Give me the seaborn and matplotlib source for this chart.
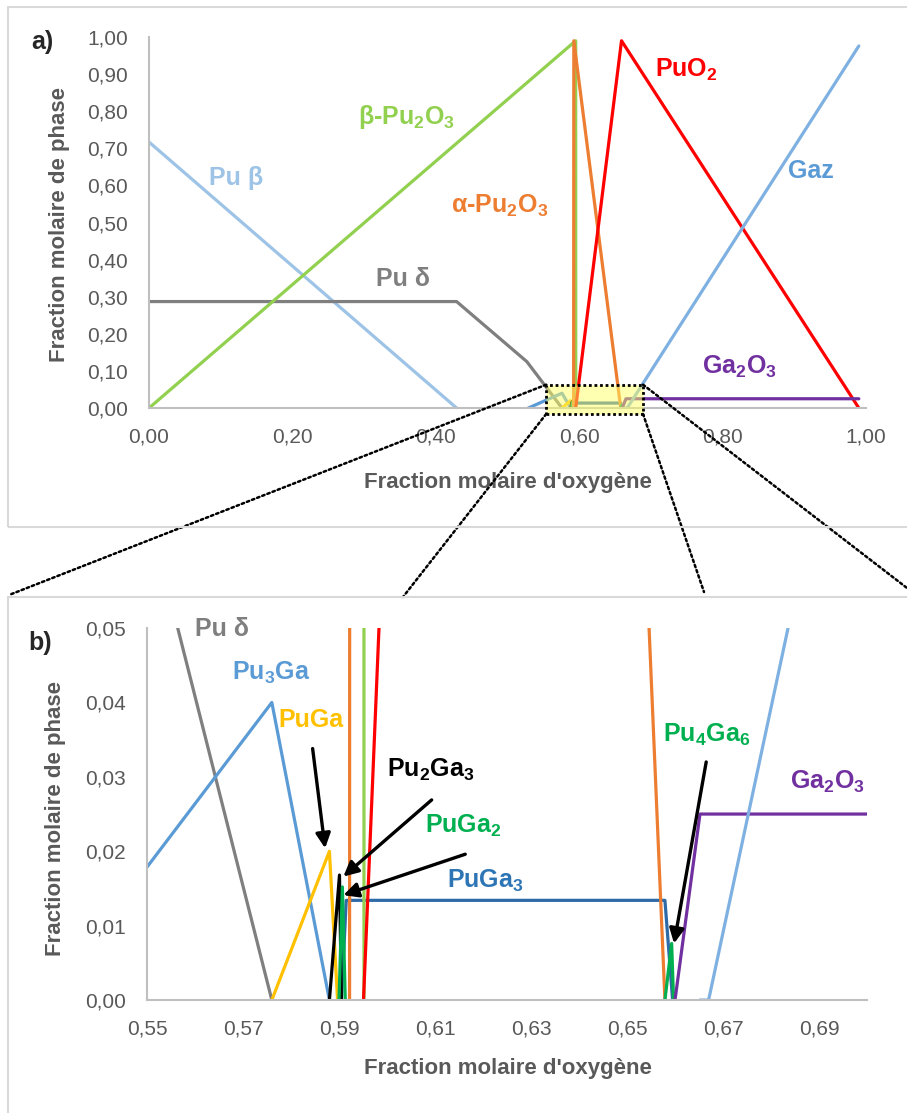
import numpy as np
import pandas as pd
import seaborn as sns
import matplotlib.pyplot as plt
from matplotlib.patches import Rectangle, ConnectionPatch

sns.set_style("white")
plt.rcParams['font.family'] = ['Liberation Sans', 'DejaVu Sans']
plt.rcParams['mathtext.fontset'] = 'custom'

# phase fraction curves (x = oxygen molar fraction, y = phase molar fraction)
pu_beta_x = [0.0, 0.429]
pu_beta_y = [0.717, 0.0]
pu_delta_x = [0.0, 0.429, 0.527, 0.576]
pu_delta_y = [0.287, 0.287, 0.125, 0.0]
pu3ga_x = [0.529, 0.576, 0.588]
pu3ga_y = [0.0, 0.040, 0.0]
puga_x = [0.576, 0.588, 0.5897]
puga_y = [0.0, 0.020, 0.0]
puga3_x = [0.5905, 0.5915, 0.6579, 0.6595]
puga3_y = [0.0, 0.0134, 0.0134, 0.0]
pu2ga3_x = [0.588, 0.5901, 0.5905]
pu2ga3_y = [0.0, 0.0168, 0.0]
puga2_x = [0.5900, 0.5907, 0.5913]
puga2_y = [0.0, 0.0152, 0.0]
beta_pu2o3_x = [0.0, 0.5951, 0.5952]
beta_pu2o3_y = [0.0, 0.99, 0.0]
alpha_pu2o3_x = [0.5922, 0.5925, 0.6579]
alpha_pu2o3_y = [0.0, 0.99, 0.0]
puo2_x = [0.5951, 0.659, 0.99]
puo2_y = [0.0, 0.99, 0.0]
pu4ga6_x = [0.6579, 0.6593, 0.6597]
pu4ga6_y = [0.0, 0.0076, 0.0]
ga2o3_x = [0.660, 0.6652, 0.99]
ga2o3_y = [0.0, 0.025, 0.025]
gaz_x = [0.6652, 0.667, 0.99]
gaz_y = [0.0, 0.0, 0.976]

series = {
    'Pu β': (pu_beta_x, pu_beta_y, '#9DC3E6'),
    'Pu δ': (pu_delta_x, pu_delta_y, '#7F7F7F'),
    'Pu3Ga': (pu3ga_x, pu3ga_y, '#5B9BD5'),
    'PuGa': (puga_x, puga_y, '#FFC000'),
    'PuGa3': (puga3_x, puga3_y, '#2E6AA6'),
    'Pu2Ga3': (pu2ga3_x, pu2ga3_y, '#000000'),
    'PuGa2': (puga2_x, puga2_y, '#00B050'),
    'β-Pu2O3': (beta_pu2o3_x, beta_pu2o3_y, '#92D050'),
    'α-Pu2O3': (alpha_pu2o3_x, alpha_pu2o3_y, '#ED7D31'),
    'PuO2': (puo2_x, puo2_y, '#FF0000'),
    'Pu4Ga6': (pu4ga6_x, pu4ga6_y, '#00B050'),
    'Ga2O3': (ga2o3_x, ga2o3_y, '#7030A0'),
    'Gaz': (gaz_x, gaz_y, '#7EB1E1'),
}

frames = []
for name, (xs, ys, col) in series.items():
    frames.append(pd.DataFrame({'phase': name, 'x': xs, 'y': ys}))
df = pd.concat(frames, ignore_index=True)
palette = {name: v[2] for name, v in series.items()}
order = list(series.keys())

# ticks
top_xticks = [0.0, 0.2, 0.4, 0.6, 0.8, 1.0]
top_yticks = [0.0, 0.1, 0.2, 0.3, 0.4, 0.5, 0.6, 0.7, 0.8, 0.9, 1.0]
bot_xticks = [0.55, 0.57, 0.59, 0.61, 0.63, 0.65, 0.67, 0.69]
bot_yticks = [0.0, 0.01, 0.02, 0.03, 0.04, 0.05]

grey_txt = '#595959'
grey_ax = '#BFBFBF'

fig = plt.figure(figsize=(9.07, 11.13), dpi=100)
ax1 = fig.add_axes([0.1643, 0.6334, 0.7905, 0.3333])
ax2 = fig.add_axes([0.1621, 0.1015, 0.7938, 0.3342])

for ax in (ax1, ax2):
    sns.lineplot(data=df, x='x', y='y', hue='phase', hue_order=order,
                 palette=palette, estimator=None, sort=False,
                 legend=False, lw=2.3, ax=ax)
    for s in ['top', 'right']:
        ax.spines[s].set_visible(False)
    for s in ['left', 'bottom']:
        ax.spines[s].set_color(grey_ax)
        ax.spines[s].set_linewidth(1.5)
    ax.tick_params(direction='in', length=6, width=1.2, color=grey_ax,
                   labelsize=15, labelcolor=grey_txt)
    ax.tick_params(axis='x', pad=14)
    ax.tick_params(axis='y', pad=15)

def fmt(v, nd):
    return f"{v:.{nd}f}".replace('.', ',')

ax1.set_xlim(0, 1.0)
ax1.set_ylim(0, 1.0)
ax1.set_xticks(top_xticks)
ax1.set_xticklabels([fmt(v, 2) for v in top_xticks])
ax1.set_yticks(top_yticks)
ax1.set_yticklabels([fmt(v, 2) for v in top_yticks])

ax2.set_xlim(0.55, 0.70)
ax2.set_ylim(0, 0.05)
ax2.set_xticks(bot_xticks)
ax2.set_xticklabels([fmt(v, 2) for v in bot_xticks])
ax2.set_yticks(bot_yticks)
ax2.set_yticklabels([fmt(v, 2) for v in bot_yticks])

lab = dict(fontsize=16, fontweight='bold', color=grey_txt)
for ax, xl_y, yl_x, yl_y in [(ax1, -0.172, -0.1255, 0.496), (ax2, -0.156, -0.1278, 0.489)]:
    ax.set_xlabel("Fraction molaire d'oxygène", **lab)
    ax.set_ylabel("Fraction molaire de phase", **lab)
    ax.xaxis.set_label_coords(0.5007, xl_y)
    ax.yaxis.set_label_coords(yl_x, yl_y)
    ax.yaxis.label.set_va('center')

# phase names
tk = dict(fontsize=18, fontweight='bold', ha='left', va='baseline')
ax1.text(0.706, 0.894, r'PuO$_\mathregular{2}$', color='#FF0000', **tk)
ax1.text(0.292, 0.766, r'β-Pu$_\mathregular{2}$O$_\mathregular{3}$', color='#92D050', **tk)
ax1.text(0.083, 0.600, 'Pu β', color='#9DC3E6', **tk)
ax1.text(0.421, 0.527, r'α-Pu$_\mathregular{2}$O$_\mathregular{3}$', color='#ED7D31', **tk)
ax1.text(0.891, 0.620, 'Gaz', color='#5B9BD5', **tk)
ax1.text(0.316, 0.329, 'Pu δ', color='#7F7F7F', **tk)
ax1.text(0.771, 0.091, r'Ga$_\mathregular{2}$O$_\mathregular{3}$', color='#7030A0', **tk)

ax2.text(0.5600, 0.0489, 'Pu δ', color='#7F7F7F', **tk)
ax2.text(0.5676, 0.0430, r'Pu$_\mathregular{3}$Ga', color='#5B9BD5', **tk)
ax2.text(0.5774, 0.0367, 'PuGa', color='#FFC000', **tk)
ax2.text(0.6000, 0.0300, r'Pu$_\mathregular{2}$Ga$_\mathregular{3}$', color='black', **tk)
ax2.text(0.6079, 0.02245, r'PuGa$_\mathregular{2}$', color='#00B050', **tk)
ax2.text(0.6125, 0.01505, r'PuGa$_\mathregular{3}$', color='#2E75B6', **tk)
ax2.text(0.6576, 0.0347, r'Pu$_\mathregular{4}$Ga$_\mathregular{6}$', color='#00B050', **tk)
ax2.text(0.6840, 0.02845, r'Ga$_\mathregular{2}$O$_\mathregular{3}$', color='#7030A0', **tk)

arrow = dict(arrowstyle='-|>', lw=2.4, color='black', mutation_scale=22,
             shrinkA=0, shrinkB=0)
for tail, head in [((0.5845, 0.0338), (0.5871, 0.0204)),
                   ((0.6093, 0.0269), (0.5909, 0.0166)),
                   ((0.6163, 0.0196), (0.5909, 0.0141)),
                   ((0.6665, 0.0320), (0.6598, 0.0076))]:
    ax2.annotate('', xy=head, xytext=tail, arrowprops=arrow, zorder=6)

# zoom box in panel a
zx0, zx1, zy0, zy1 = 0.554, 0.689, -0.016, 0.063
ax1.add_patch(Rectangle((zx0, zy0), zx1 - zx0, zy1 - zy0,
                        facecolor=(1, 1, 0.4, 0.5), edgecolor='black',
                        linestyle=(0, (1, 1)), lw=2, clip_on=False, zorder=5))
for xa, xb in [((zx0, zy1), (0.0099, 0.4654)),
               ((zx0, zy0), (0.4443, 0.4636)),
               ((zx1, zy0), (0.7762, 0.4681)),
               ((zx1, zy1), (1.0, 0.4717))]:
    con = ConnectionPatch(xyA=xa, coordsA=ax1.transData, xyB=xb,
                          coordsB=fig.transFigure, color='black',
                          linestyle=(0, (1, 1.2)), lw=1.8)
    fig.add_artist(con)

# chart area frames
fig.add_artist(Rectangle((8 / 907, 1 - 527 / 1113), 1.0, 520 / 1113,
                         transform=fig.transFigure, fill=False,
                         edgecolor='#D9D9D9', lw=1.5))
fig.add_artist(Rectangle((8 / 907, -0.02), 1.0, 1 - 597 / 1113 + 0.02,
                         transform=fig.transFigure, fill=False,
                         edgecolor='#D9D9D9', lw=1.5))

fig.text(0.0463, 0.9623, 'a)', fontsize=18, fontweight='bold', ha='center', va='center')
fig.text(0.0441, 0.4223, 'b)', fontsize=18, fontweight='bold', ha='center', va='center')

fig.savefig('out.png', dpi=100)
